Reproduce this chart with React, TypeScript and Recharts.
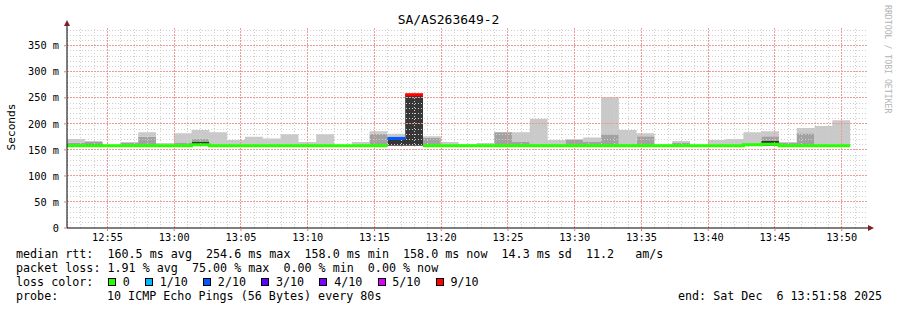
import React from 'react';
import { ComposedChart, Area, Line, XAxis, YAxis, ReferenceLine, ReferenceDot } from 'recharts';

const MONO = '"DejaVu Sans Mono", monospace';

// graph window: 12:51:58 .. 13:51:58, one step every 80s
const startClock = '12:51:58';
const spanSec = 3600;
const stepSec = 80;

const xTickLabels = ['12:55', '13:00', '13:05', '13:10', '13:15', '13:20', '13:25', '13:30', '13:35', '13:40', '13:45', '13:50'];
const yTicks = [0, 50, 100, 150, 200, 250, 300, 350];
const yTickLabels = ['0', '50 m', '100 m', '150 m', '200 m', '250 m', '300 m', '350 m'];

// per step values (ms)
const medianMs = [158, 158, 158, 158, 158, 158, 158, 160, 158, 158, 158, 158, 158, 158, 158, 158, 158, 158, 172, 256, 158, 158, 158, 158, 158, 158, 158, 158, 158, 158, 158, 158, 158, 158, 158, 158, 158, 158, 160, 161, 158, 158, 158, 158];
const lossTenths = [0, 0, 0, 0, 0, 0, 0, 0, 0, 0, 0, 0, 0, 0, 0, 0, 0, 0, 2, 9, 0, 0, 0, 0, 0, 0, 0, 0, 0, 0, 0, 0, 0, 0, 0, 0, 0, 0, 0, 0, 0, 0, 0, 0];
const minMs = [158, 158, 158, 158, 158, 158, 158, 158, 158, 158, 158, 158, 158, 158, 158, 158, 158, 158, 158, 158, 158, 158, 158, 158, 158, 158, 158, 158, 158, 158, 158, 158, 158, 158, 158, 158, 158, 158, 158, 158, 158, 158, 158, 158];
const darkTopMs = [158, 161, 158, 158, 158, 158, 158, 165, 158, 158, 158, 158, 158, 158, 158, 158, 158, 158, 172, 256, 158, 158, 158, 158, 158, 158, 158, 158, 158, 158, 158, 158, 158, 158, 158, 158, 158, 158, 158, 167, 158, 158, 158, 158];
const midTopMs = [164, 165, 158, 163, 175, 158, 163, 172, 158, 158, 158, 158, 158, 158, 158, 158, 158, 181, 172, 256, 174, 158, 158, 158, 184, 165, 161, 161, 170, 165, 180, 161, 176, 158, 163, 158, 158, 160, 158, 176, 163, 182, 160, 158];
const maxMs = [171, 167, 158, 165, 184, 163, 182, 188, 184, 169, 175, 172, 180, 165, 180, 158, 165, 186, 181, 256, 176, 165, 161, 163, 184, 184, 210, 169, 170, 174, 251, 188, 182, 161, 167, 158, 169, 171, 184, 186, 165, 192, 196, 207];

const lossLabels = ['0', '1/10', '2/10', '3/10', '4/10', '5/10', '9/10'];
const lossLevels = [0, 1, 2, 3, 4, 5, 9];
const lossColors = ['#26ff00', '#00b8ff', '#0059ff', '#5e00ff', '#7e00ff', '#dd00ff', '#ff0000'];

const clockSec = (s: string) => {
  const p = s.split(':').map(Number);
  return p[0] * 3600 + p[1] * 60 + (p[2] || 0);
};
const start = clockSec(startClock);
const xTicks = xTickLabels.map((l) => clockSec(l) - start);

const fmtTime = (t: number) => {
  const s = start + t;
  const h = Math.floor(s / 3600);
  const m = Math.floor((s % 3600) / 60);
  return `${h}:${String(m).padStart(2, '0')}`;
};

const n = medianMs.length;
const usedLevels = lossLevels.filter((lv) => lossTenths.includes(lv));

const rows = Array.from({ length: n + 1 }, (_, i) => {
  const k = Math.min(i, n - 1);
  const row: Record<string, number | null> = {
    t: i * stepSec,
    low: minMs[k],
    dark: darkTopMs[k] - minMs[k],
    mid: midTopMs[k] - darkTopMs[k],
    light: maxMs[k] - midTopMs[k],
  };
  usedLevels.forEach((lv) => {
    let v: number | null = i < n && lossTenths[i] === lv ? medianMs[i] : null;
    if (v === null && i > 0 && lossTenths[i - 1] === lv) v = medianMs[i - 1];
    row[`loss${lv}`] = v;
  });
  return row;
});

// grid
const minorX: number[] = [];
for (let s = Math.ceil(start / 60) * 60 - start; s < spanSec; s += 60) if (!xTicks.includes(s)) minorX.push(s);
const minorY: number[] = [];
for (let v = 10; v <= 380; v += 10) if (v % 50 !== 0) minorY.push(v);

const Y_MAX = 386;

const upArrow = (p: any) => (
  <g>
    <line x1={p.cx} y1={p.cy} x2={p.cx} y2={p.cy - 2} stroke="#000" />
    <path d={`M${p.cx - 3},${p.cy - 1} L${p.cx + 3},${p.cy - 1} L${p.cx},${p.cy - 7} Z`} fill="#7f1f1f" />
  </g>
);
const rightArrow = (p: any) => (
  <path d={`M${p.cx},${p.cy - 3} L${p.cx},${p.cy + 3} L${p.cx + 6},${p.cy} Z`} fill="#7f1f1f" />
);

const row = (top: number, left: number, text: string) => (
  <div style={{ position: 'absolute', left, top, fontFamily: MONO, fontSize: 11.7, lineHeight: '14px', whiteSpace: 'pre', color: '#000' }}>
    {text}
  </div>
);

export default function App() {
  return (
    <div style={{ position: 'absolute', left: 0, top: 0, width: 897, height: 310, background: '#fff' }}>
      <ComposedChart width={897} height={310} data={rows} margin={{ top: 27, right: 29, bottom: 62, left: 0 }}>
        <XAxis
          dataKey="t"
          type="number"
          domain={[0, spanSec]}
          ticks={xTicks}
          tickFormatter={fmtTime}
          allowDataOverflow
          height={20}
          axisLine={{ stroke: '#000' }}
          tickLine={{ stroke: '#e07a7a' }}
          tickSize={3}
          tickMargin={3}
          tick={{ fontFamily: MONO, fontSize: 10.3, fill: '#000' }}
        />
        <YAxis
          type="number"
          domain={[0, Y_MAX]}
          ticks={yTicks}
          tickFormatter={(v: number) => yTickLabels[yTicks.indexOf(v)]}
          allowDataOverflow
          width={67}
          axisLine={{ stroke: '#000' }}
          tickLine={{ stroke: '#e07a7a' }}
          tickSize={3}
          tickMargin={5}
          tick={{ fontFamily: MONO, fontSize: 10.3, fill: '#000' }}
        />
        <Area type="stepAfter" dataKey="low" stackId="smoke" stroke="none" fill="none" isAnimationActive={false} />
        <Area type="stepAfter" dataKey="dark" stackId="smoke" stroke="none" fill="#363636" fillOpacity={1} isAnimationActive={false} />
        <Area type="stepAfter" dataKey="mid" stackId="smoke" stroke="none" fill="#a2a2a2" fillOpacity={1} isAnimationActive={false} />
        <Area type="stepAfter" dataKey="light" stackId="smoke" stroke="none" fill="#c9c9c9" fillOpacity={1} isAnimationActive={false} />
        {minorX.map((x) => (
          <ReferenceLine key={`mx${x}`} x={x} stroke="#cfcfcf" strokeDasharray="1 2" shapeRendering="crispEdges" />
        ))}
        {minorY.map((y) => (
          <ReferenceLine key={`my${y}`} y={y} stroke="#cfcfcf" strokeDasharray="1 2" shapeRendering="crispEdges" />
        ))}
        {xTicks.map((x) => (
          <ReferenceLine key={`Mx${x}`} x={x} stroke="#ec9a9a" strokeDasharray="2 1" shapeRendering="crispEdges" />
        ))}
        {yTicks.filter((y) => y > 0).map((y) => (
          <ReferenceLine key={`My${y}`} y={y} stroke="#ec9a9a" strokeDasharray="2 1" shapeRendering="crispEdges" />
        ))}
        {usedLevels.map((lv) => (
          <Line
            key={lv}
            type="stepAfter"
            dataKey={`loss${lv}`}
            stroke={lossColors[lossLevels.indexOf(lv)]}
            strokeWidth={3}
            dot={false}
            activeDot={false}
            connectNulls={false}
            isAnimationActive={false}
          />
        ))}
        <ReferenceDot x={0} y={Y_MAX} r={0} ifOverflow="visible" shape={upArrow} />
        <ReferenceDot x={spanSec} y={0} r={0} ifOverflow="visible" shape={rightArrow} />
      </ComposedChart>

      <svg width={897} height={310} style={{ position: 'absolute', left: 0, top: 0, pointerEvents: 'none' }}>
        <text x={448.5} y={19.5} textAnchor="middle" dominantBaseline="central" fontFamily={MONO} fontSize={13}>
          SA/AS263649-2
        </text>
        <text transform="translate(11,127) rotate(-90)" textAnchor="middle" dominantBaseline="central" fontFamily={MONO} fontSize={11.2}>
          Seconds
        </text>
        <text transform="translate(888,5) rotate(90)" textAnchor="start" dominantBaseline="central" fontFamily={MONO} fontSize={8.2} fill="#b4b4b4">
          RRDTOOL / TOBI OETIKER
        </text>
      </svg>

      {row(247, 16, 'median rtt:  160.5 ms avg  254.6 ms max  158.0 ms min  158.0 ms now  14.3 ms sd  11.2   am/s')}
      {row(261, 16, 'packet loss: 1.91 % avg  75.00 % max  0.00 % min  0.00 % now')}
      {row(275, 16, 'loss color:')}
      <div style={{ position: 'absolute', left: 108, top: 275, display: 'flex', alignItems: 'center', height: 14 }}>
        {lossLabels.map((l, i) => (
          <span key={l} style={{ display: 'inline-flex', alignItems: 'center', marginRight: 15.3 }}>
            <span style={{ width: 6, height: 6, border: '1px solid #000', background: lossColors[i], marginRight: 6.7 }} />
            <span style={{ fontFamily: MONO, fontSize: 11.7, lineHeight: '14px' }}>{l}</span>
          </span>
        ))}
      </div>
      {row(289, 16, 'probe:')}
      {row(289, 107, '10 ICMP Echo Pings (56 Bytes) every 80s')}
      {row(289, 678, 'end: Sat Dec  6 13:51:58 2025')}
    </div>
  );
}
